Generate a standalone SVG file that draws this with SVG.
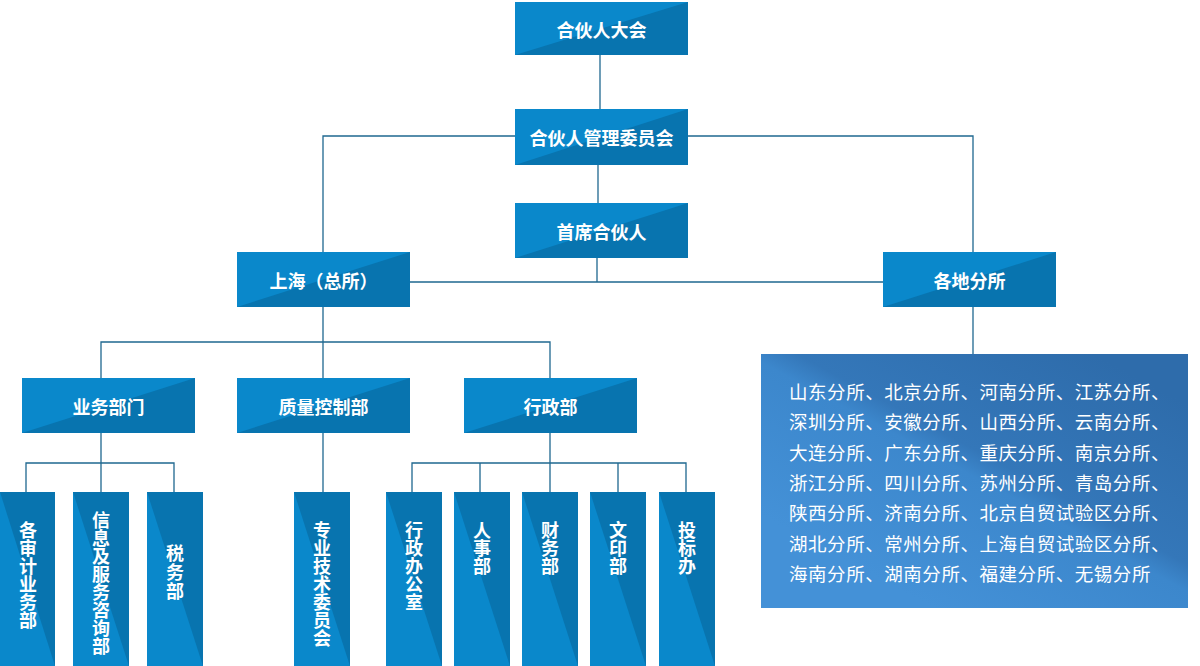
<svg xmlns="http://www.w3.org/2000/svg" width="1200" height="666" viewBox="0 0 1200 666">
<defs>
<style>
.lt{fill:#0a88cb}
.dk{fill:#0874af}
.ln{stroke:#1f6890;stroke-width:1.3;fill:none}
.hl{font-family:"Noto Sans CJK SC","Noto Sans",sans-serif;font-weight:700;font-size:18px;fill:#fff;text-anchor:middle;dominant-baseline:central}
.vt{font-family:"Noto Sans CJK SC","Noto Sans",sans-serif;font-weight:700;font-size:18px;fill:#fff;writing-mode:vertical-rl;text-orientation:upright;text-anchor:start}
.pt{font-family:"Noto Sans CJK SC","Noto Sans",sans-serif;font-size:18.5px;letter-spacing:0.55px;fill:#fff;dominant-baseline:central}
</style>
<linearGradient id="pg" gradientUnits="userSpaceOnUse" x1="913" y1="597" x2="1055" y2="333">
<stop offset="0" stop-color="#4491d7"/>
<stop offset="0.45" stop-color="#3c87cc"/>
<stop offset="0.53" stop-color="#3477b9"/>
<stop offset="1" stop-color="#2e6cab"/>
</linearGradient>
</defs>
<rect width="1200" height="666" fill="#fff"/>
<g id="connectors">
<path class="ln" d="M600 55V109"/>
<path class="ln" d="M323 252V136H515M688 136H973V252"/>
<path class="ln" d="M598 165V203"/>
<path class="ln" d="M597 258V282M410 282H883"/>
<path class="ln" d="M323 307V342M101 378V342H550V378M323 342V378"/>
<path class="ln" d="M101 433V463M26 492V463H174V492M101 463V492"/>
<path class="ln" d="M323 433V492"/>
<path class="ln" d="M550 433V463M412 492V463H686V492M480 463V492M550 463V492M618 463V492"/>
<path class="ln" d="M973 307V354"/>
</g>
<g id="n-dahui">
<rect class="lt" x="515" y="2" width="173" height="53"/>
<polygon class="dk" points="688,2 688,55 515,55"/>
<text class="hl" x="601.5" y="28.5">合伙人大会</text>
</g>
<g id="n-guanli">
<rect class="lt" x="515" y="109" width="173" height="56"/>
<polygon class="dk" points="688,109 688,165 515,165"/>
<text class="hl" x="601.5" y="137">合伙人管理委员会</text>
</g>
<g id="n-shouxi">
<rect class="lt" x="515" y="203" width="173" height="55"/>
<polygon class="dk" points="688,203 688,258 515,258"/>
<text class="hl" x="601.5" y="230.5">首席合伙人</text>
</g>
<g id="n-shanghai">
<rect class="lt" x="237" y="252" width="173" height="55"/>
<polygon class="dk" points="410,252 410,307 237,307"/>
<text class="hl" x="323.5" y="279.5">上海（总所）</text>
</g>
<g id="n-gedi">
<rect class="lt" x="883" y="252" width="173" height="55"/>
<polygon class="dk" points="1056,252 1056,307 883,307"/>
<text class="hl" x="969.5" y="279.5">各地分所</text>
</g>
<g id="n-yewu">
<rect class="lt" x="22" y="378" width="173" height="55"/>
<polygon class="dk" points="195,378 195,433 22,433"/>
<text class="hl" x="108.5" y="405.5">业务部门</text>
</g>
<g id="n-zhiliang">
<rect class="lt" x="237" y="378" width="173" height="55"/>
<polygon class="dk" points="410,378 410,433 237,433"/>
<text class="hl" x="323.5" y="405.5">质量控制部</text>
</g>
<g id="n-xingzheng">
<rect class="lt" x="464" y="378" width="173" height="55"/>
<polygon class="dk" points="637,378 637,433 464,433"/>
<text class="hl" x="550.5" y="405.5">行政部</text>
</g>
<g id="n-geshen">
<rect class="lt" x="0" y="492" width="55" height="174"/>
<polygon class="dk" points="0,492 55,492 55,666"/>
<text class="vt" x="28" y="521">各审计业务部</text>
</g>
<g id="n-xinxi">
<rect class="lt" x="73" y="492" width="56" height="174"/>
<polygon class="dk" points="73,492 129,492 129,666"/>
<text class="vt" x="101" y="511">信息及服务咨询部</text>
</g>
<g id="n-shuiwu">
<rect class="lt" x="147" y="492" width="56" height="174"/>
<polygon class="dk" points="147,492 203,492 203,666"/>
<text class="vt" x="175" y="544" letter-spacing="1">税务部</text>
</g>
<g id="n-zhuanye">
<rect class="lt" x="294" y="492" width="56" height="174"/>
<polygon class="dk" points="294,492 350,492 350,666"/>
<text class="vt" x="322" y="521">专业技术委员会</text>
</g>
<g id="n-xzbgs">
<rect class="lt" x="386" y="492" width="56" height="174"/>
<polygon class="dk" points="386,492 442,492 442,666"/>
<text class="vt" x="414" y="521">行政办公室</text>
</g>
<g id="n-renshi">
<rect class="lt" x="454" y="492" width="56" height="174"/>
<polygon class="dk" points="454,492 510,492 510,666"/>
<text class="vt" x="482" y="521">人事部</text>
</g>
<g id="n-caiwu">
<rect class="lt" x="522" y="492" width="56" height="174"/>
<polygon class="dk" points="522,492 578,492 578,666"/>
<text class="vt" x="550" y="521">财务部</text>
</g>
<g id="n-wenyin">
<rect class="lt" x="590" y="492" width="56" height="174"/>
<polygon class="dk" points="590,492 646,492 646,666"/>
<text class="vt" x="618" y="521">文印部</text>
</g>
<g id="n-toubiao">
<rect class="lt" x="659" y="492" width="56" height="174"/>
<polygon class="dk" points="659,492 715,492 715,666"/>
<text class="vt" x="687" y="521">投标办</text>
</g>
<g id="n-fensuo-list">
<rect x="761" y="354" width="427" height="254" fill="url(#pg)"/>
<text class="pt" x="789" y="391">山东分所、北京分所、河南分所、江苏分所、</text>
<text class="pt" x="789" y="421.3">深圳分所、安徽分所、山西分所、云南分所、</text>
<text class="pt" x="789" y="451.6">大连分所、广东分所、重庆分所、南京分所、</text>
<text class="pt" x="789" y="481.9">浙江分所、四川分所、苏州分所、青岛分所、</text>
<text class="pt" x="789" y="512.2">陕西分所、济南分所、北京自贸试验区分所、</text>
<text class="pt" x="789" y="542.5">湖北分所、常州分所、上海自贸试验区分所、</text>
<text class="pt" x="789" y="572.8">海南分所、湖南分所、福建分所、无锡分所</text>
</g>
</svg>
